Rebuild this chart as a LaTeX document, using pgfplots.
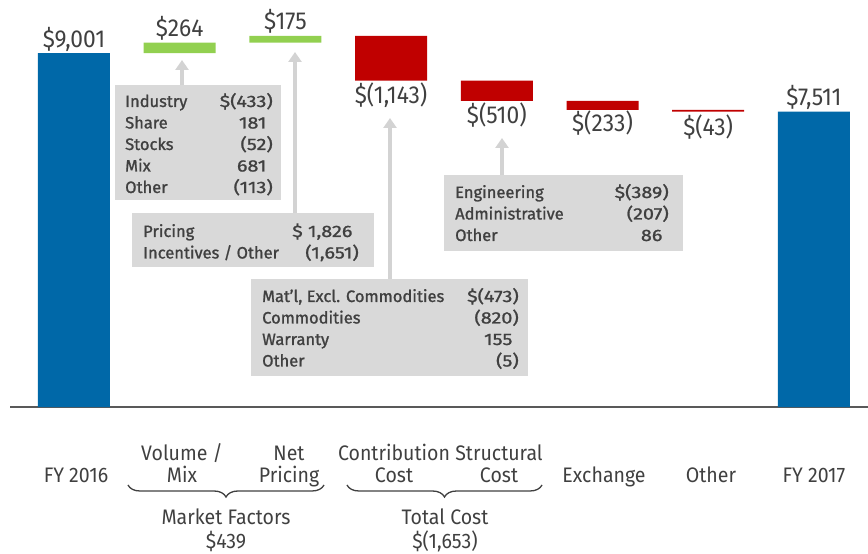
\documentclass[border=0pt]{standalone}
\usepackage{pgfplots}
\pgfplotsset{compat=1.18}
\usepackage{fontspec}
\setmainfont{Fira Sans}
\newfontfamily\cond[FakeStretch=0.93]{Fira Sans}
\newfontfamily\boxfont[FakeBold=1.2]{Fira Sans}
\newfontfamily\numfont[FakeBold=1.2, FakeStretch=1.2]{Fira Sans}
\usetikzlibrary{arrows.meta,decorations.pathreplacing}
\definecolor{fblue}{HTML}{0068A8}
\definecolor{fgreen}{HTML}{92D050}
\definecolor{fred}{HTML}{C00000}
\definecolor{boxgray}{HTML}{D9D9D9}
\definecolor{arrgray}{HTML}{D3D3D3}
\definecolor{txt}{HTML}{404040}
\newcommand{\vlab}{\cond\fontsize{24.5pt}{28pt}\selectfont}
\newcommand{\clab}{\cond\fontsize{21pt}{24pt}\selectfont}
\newcommand{\btxt}{\boxfont\fontsize{16.5pt}{18pt}\selectfont}
\newcommand{\ntxt}{\numfont\fontsize{16.5pt}{18pt}\selectfont}
\begin{document}
\begin{tikzpicture}
\useasboundingbox (0,0) rectangle (868pt,554pt);
\begin{axis}[at={(0,0)}, anchor=south west, scale only axis,
  width=868pt, height=554pt,
  xmin=-0.7, xmax=7.5118, ymin=-3738, ymax=10350,
  hide axis, clip=false, ybar stacked, bar width=72pt]
% invisible base of the floating bars
\addplot[draw=none, fill=none] coordinates {(0,0) (1,9001) (2,9265) (3,8297) (4,7787) (5,7554) (6,7511) (7,0)};
\addplot[draw=none, fill=fblue] coordinates {(0,9001) (1,0) (2,0) (3,0) (4,0) (5,0) (6,0) (7,7511)};
\addplot[draw=none, fill=fgreen] coordinates {(0,0) (1,264) (2,175) (3,0) (4,0) (5,0) (6,0) (7,0)};
\addplot[draw=none, fill=fred] coordinates {(0,0) (1,0) (2,0) (3,1143) (4,510) (5,233) (6,43) (7,0)};
% baseline
\draw[color=black!65, line width=1.8pt] (axis cs:-0.605,0) -- (axis cs:7.5118,0);
% value labels
\node[anchor=base, yshift=6pt, font=\vlab, text=txt] at (axis cs:0,9001) {\$9,001};
\node[anchor=base, yshift=6pt, font=\vlab, text=txt] at (axis cs:1,9265) {\$264};
\node[anchor=base, yshift=6pt, font=\vlab, text=txt] at (axis cs:2,9440) {\$175};
\node[anchor=base, yshift=-23pt, font=\vlab, text=txt] at (axis cs:3,8297) {\$(1,143)};
\node[anchor=base, yshift=-23pt, font=\vlab, text=txt] at (axis cs:4,7787) {\$(510)};
\node[anchor=base, yshift=-22pt, font=\vlab, text=txt] at (axis cs:5,7554) {\$(233)};
\node[anchor=base, yshift=-24pt, font=\vlab, text=txt] at (axis cs:6,7511) {\$(43)};
\node[anchor=base, yshift=6pt, font=\vlab, text=txt] at (axis cs:7,7511) {\$7,511};
\end{axis}
\begin{scope}[x=1pt, y=-1pt, shift={(0,554pt)}]
% arrows
\draw[arrgray, line width=4pt, -{Triangle[width=13pt,length=10pt]}] (182,85) -- (182,60);
\draw[arrgray, line width=4pt, -{Triangle[width=13pt,length=10pt]}] (295,213) -- (295,52);
\draw[arrgray, line width=4pt, -{Triangle[width=13pt,length=10pt]}] (390,279) -- (390,118);
\draw[arrgray, line width=4pt, -{Triangle[width=13pt,length=10pt]}] (502,175) -- (502,138);
% boxes
\fill[boxgray] (115,85) rectangle (281,200);
\fill[boxgray] (132,213) rectangle (374,267);
\fill[boxgray] (251,279) rectangle (528,376);
\fill[boxgray] (444,175) rectangle (683,251);
\begin{scope}[every node/.style={font=\btxt, text=txt, inner sep=0pt}, v/.style={anchor=base east, font=\ntxt}]
% box 1
\node[anchor=base west] at (125,107) {Industry};
\node[v] at (273,107) {\$(433)};
\node[anchor=base west] at (125,128.5) {Share};
\node[v] at (273,128.5) {181\phantom{)}};
\node[anchor=base west] at (125,150) {Stocks};
\node[v] at (273,150) {(52)};
\node[anchor=base west] at (125,171.5) {Mix};
\node[v] at (273,171.5) {681\phantom{)}};
\node[anchor=base west] at (125,193) {Other};
\node[v] at (273,193) {(113)};
% box 2
\node[anchor=base west] at (143,237) {Pricing};
\node[v] at (359,237) {\$ 1,826\phantom{)}};
\node[anchor=base west] at (143,258.5) {Incentives / Other};
\node[v] at (359,258.5) {(1,651)};
% box 3
\node[anchor=base west] at (262,302) {Mat’l, Excl. Commodities};
\node[v] at (519,302) {\$(473)};
\node[anchor=base west] at (262,323.5) {Commodities};
\node[v] at (519,323.5) {(820)};
\node[anchor=base west] at (262,345) {Warranty};
\node[v] at (519,345) {155\phantom{)}};
\node[anchor=base west] at (262,366.5) {Other};
\node[v] at (519,366.5) {(5)};
% box 4
\node[anchor=base west] at (455,198) {Engineering};
\node[v] at (669,198) {\$(389)};
\node[anchor=base west] at (455,219.5) {Administrative};
\node[v] at (669,219.5) {(207)};
\node[anchor=base west] at (455,241) {Other};
\node[v] at (669,241) {86\phantom{)}};
\end{scope}
% category labels
\begin{scope}[every node/.style={font=\clab, text=txt, inner sep=0pt, anchor=base}]
\node at (76,483) {FY 2016};
\node at (182,461) {Volume /};
\node at (182,483) {Mix};
\node at (289,461) {Net};
\node at (289,483) {Pricing};
\node at (394,461) {Contribution};
\node at (394,483) {Cost};
\node at (499,461) {Structural};
\node at (499,483) {Cost};
\node at (604,483) {Exchange};
\node at (711,483) {Other};
\node at (814,483) {FY 2017};
\node at (226,525) {Market Factors};
\node at (226,549) {\$439};
\node at (445,525) {Total Cost};
\node at (445,549) {\$(1,653)};
\end{scope}
% braces
\draw[txt, line width=1.3pt, decorate, decoration={brace, mirror, amplitude=12pt}] (128,485) -- (324,485);
\draw[txt, line width=1.3pt, decorate, decoration={brace, mirror, amplitude=12pt}] (347,485) -- (542,485);
\end{scope}
\end{tikzpicture}
\end{document}
